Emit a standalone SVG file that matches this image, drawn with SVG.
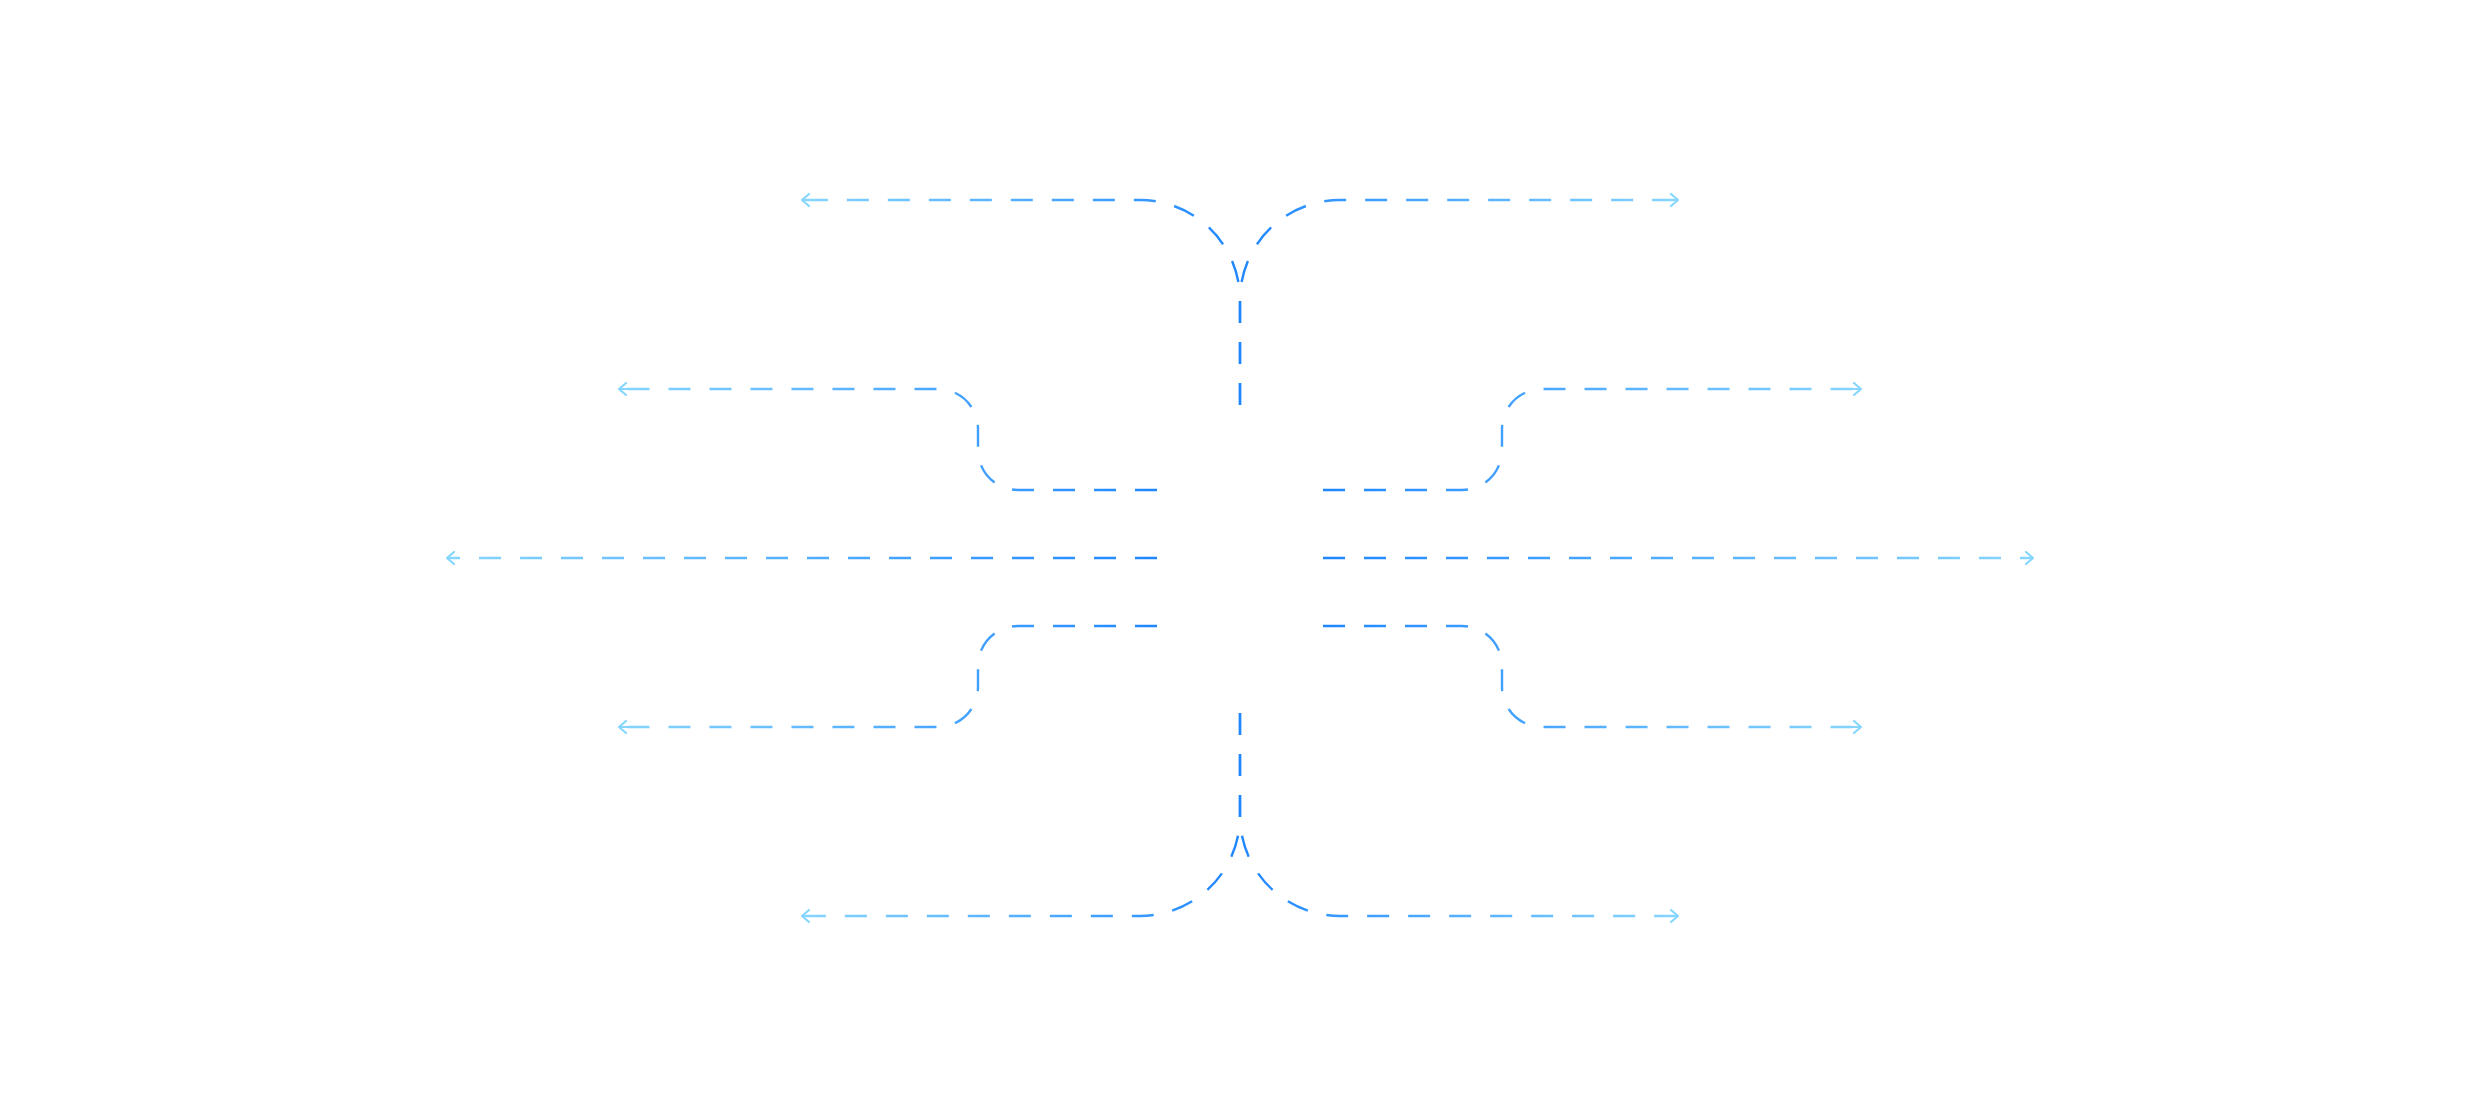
<svg xmlns="http://www.w3.org/2000/svg" xmlns:xlink="http://www.w3.org/1999/xlink" width="2480" height="1116" viewBox="0 0 2480 1116">
  <style>
    .conn { fill: none; stroke-width: 2.4; stroke-dasharray: 22 19; stroke-linecap: butt; marker-end: url(#arrow); }
  </style>
  <defs>
    <linearGradient id="base">
      <stop offset="0" stop-color="#1f86ff"/>
      <stop offset="1" stop-color="#86d6ff"/>
    </linearGradient>
    <linearGradient id="gTL" href="#base" xlink:href="#base" gradientUnits="userSpaceOnUse" x1="1240" y1="0" x2="802" y2="0"/>
    <linearGradient id="gTR" href="#base" xlink:href="#base" gradientUnits="userSpaceOnUse" x1="1240" y1="0" x2="1678" y2="0"/>
    <linearGradient id="gL2" href="#base" xlink:href="#base" gradientUnits="userSpaceOnUse" x1="1157" y1="0" x2="619" y2="0"/>
    <linearGradient id="gR2" href="#base" xlink:href="#base" gradientUnits="userSpaceOnUse" x1="1323" y1="0" x2="1861" y2="0"/>
    <linearGradient id="gLM" href="#base" xlink:href="#base" gradientUnits="userSpaceOnUse" x1="1157" y1="0" x2="447" y2="0"/>
    <linearGradient id="gRM" href="#base" xlink:href="#base" gradientUnits="userSpaceOnUse" x1="1323" y1="0" x2="2033" y2="0"/>
    <marker id="arrow" markerUnits="userSpaceOnUse" markerWidth="24" markerHeight="24" refX="0" refY="0" orient="auto" overflow="visible">
      <path d="M-7,-6 L0,0 L-7,6 M0,0 H-10" fill="none" stroke="#86d6ff" stroke-width="2.2" stroke-linecap="round" stroke-linejoin="round"/>
    </marker>
  </defs>
  <rect x="0" y="0" width="2480" height="1116" fill="#ffffff"/>
  <g id="connectors">
    <path class="conn" stroke="url(#gTL)" d="M1240,405 V300 A100,100 0 0 0 1140,200 H802"/>
    <path class="conn" stroke="url(#gTR)" d="M1240,405 V300 A100,100 0 0 1 1340,200 H1678"/>
    <path class="conn" stroke="url(#gL2)" d="M1157,490 H1018 A40,40 0 0 1 978,450 V429 A40,40 0 0 0 938,389 H619"/>
    <path class="conn" stroke="url(#gR2)" d="M1323,490 H1462 A40,40 0 0 0 1502,450 V429 A40,40 0 0 1 1542,389 H1861"/>
    <path class="conn" stroke="url(#gLM)" d="M1157,558 H447"/>
    <path class="conn" stroke="url(#gRM)" d="M1323,558 H2033"/>
    <path class="conn" stroke="url(#gL2)" d="M1157,626 H1018 A40,40 0 0 0 978,666 V687 A40,40 0 0 1 938,727 H619"/>
    <path class="conn" stroke="url(#gR2)" d="M1323,626 H1462 A40,40 0 0 1 1502,666 V687 A40,40 0 0 0 1542,727 H1861"/>
    <path class="conn" stroke="url(#gTL)" d="M1240,713 V816 A100,100 0 0 1 1140,916 H802"/>
    <path class="conn" stroke="url(#gTR)" d="M1240,713 V816 A100,100 0 0 0 1340,916 H1678"/>
  </g>
</svg>
